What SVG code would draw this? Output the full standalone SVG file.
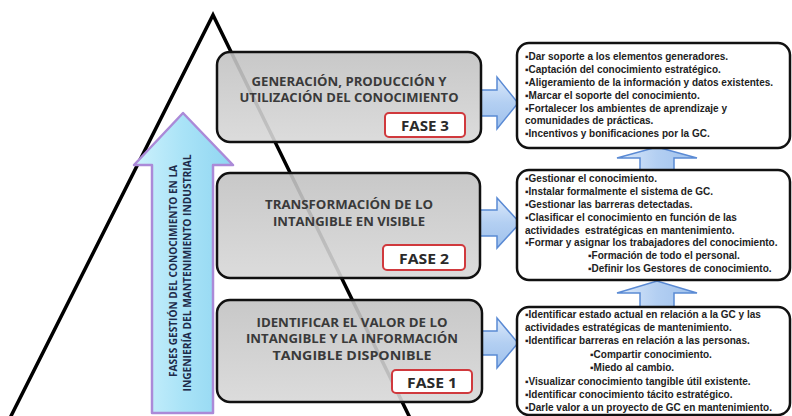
<svg xmlns="http://www.w3.org/2000/svg" width="792" height="416" viewBox="0 0 792 416">
<defs>
<linearGradient id="gGray" x1="0" y1="0" x2="0" y2="1">
<stop offset="0" stop-color="#c2c2c2"/>
<stop offset="1" stop-color="#d8d8d8"/>
</linearGradient>
<linearGradient id="gCyan" x1="0" y1="0" x2="1" y2="0">
<stop offset="0" stop-color="#cdf1fc"/>
<stop offset="0.5" stop-color="#a9e3f7"/>
<stop offset="1" stop-color="#8fd5f1"/>
</linearGradient>
<linearGradient id="gBlueH" x1="0" y1="0" x2="0" y2="1">
<stop offset="0" stop-color="#dce9fa"/>
<stop offset="0.5" stop-color="#b3cff2"/>
<stop offset="1" stop-color="#9fc1ec"/>
</linearGradient>
<linearGradient id="gBlueV" x1="0" y1="0" x2="1" y2="0">
<stop offset="0" stop-color="#dce9fa"/>
<stop offset="0.5" stop-color="#b3cff2"/>
<stop offset="1" stop-color="#9fc1ec"/>
</linearGradient>
</defs>
<style>
.phase{fill:url(#gGray);fill-opacity:0.9;stroke:#111;stroke-width:2.5}
.ph{font-family:"Open Sans","Liberation Sans",sans-serif;font-weight:bold;font-size:12.5px;fill:#3a3a3a;text-anchor:middle}
.fbox{fill:#fff;stroke:#d0393d;stroke-width:2}
.ft{font-family:"Open Sans","Liberation Sans",sans-serif;font-weight:bold;font-size:15px;fill:#2a2a2a;text-anchor:middle}
.wbox{fill:#fff;stroke:#111;stroke-width:2.5}
.wt{font-family:"Liberation Sans",Arial,sans-serif;font-weight:bold;font-size:10px;fill:#222}
.barr{fill:url(#gBlueH);stroke:#5a8ad4;stroke-width:1.5}
.varr{fill:url(#gBlueV);stroke:#5a8ad4;stroke-width:1.5}
.vt{font-family:"Open Sans","Liberation Sans",sans-serif;font-weight:bold;font-size:10.5px;fill:#1e2b4a;text-anchor:middle}
</style>
<rect width="792" height="416" fill="#fff"/>

<g id="pyramid">
<polyline points="9,420 213,15 411,420" fill="none" stroke="#000" stroke-width="3.5" stroke-linejoin="miter"/>
</g>

<g id="fases-arrow">
<path d="M152,413 L152,165 L134,165 L183,113 L233,165 L213,165 L213,413 Z" fill="url(#gCyan)" stroke="#ab8ad8" stroke-width="2.5" stroke-linejoin="round"/>
<text class="vt" transform="translate(177,271) rotate(-90)" textLength="212" lengthAdjust="spacingAndGlyphs">FASES GESTIÓN DEL CONOCIMIENTO EN LA</text>
<text class="vt" transform="translate(191,273) rotate(-90)" textLength="237" lengthAdjust="spacingAndGlyphs">INGENIERÍA DEL MANTENIMIENTO INDUSTRIAL</text>
</g>

<g id="connectors">
<path class="barr" d="M481,90 L497,90 L497,77 L518,103 L497,129 L497,116 L481,116 Z"/>
<path class="barr" d="M480,210 L497,210 L497,198 L520,223 L497,248 L497,236 L480,236 Z"/>
<path class="barr" d="M482,331 L497,331 L497,318 L518,343 L497,368 L497,355 L482,355 Z"/>
<path class="varr" d="M640,170 L640,158 L617,158 L657,147 L697,158 L674,158 L674,170 Z"/>
<path class="varr" d="M640,307 L640,293 L617,293 L657,281 L697,293 L674,293 L674,307 Z"/>
</g>

<g id="fase3">
<rect class="phase" x="217" y="52" width="264" height="90" rx="13"/>
<text class="ph" x="349" y="86" textLength="195" lengthAdjust="spacingAndGlyphs">GENERACIÓN, PRODUCCIÓN Y</text>
<text class="ph" x="349" y="102" textLength="219" lengthAdjust="spacingAndGlyphs">UTILIZACIÓN DEL CONOCIMIENTO</text>
<rect class="fbox" x="385" y="113" width="80" height="24" rx="4"/>
<text class="ft" x="425" y="131" textLength="48" lengthAdjust="spacingAndGlyphs">FASE 3</text>
</g>

<g id="fase2">
<rect class="phase" x="217" y="173" width="263" height="105" rx="13"/>
<text class="ph" x="349" y="209" textLength="168" lengthAdjust="spacingAndGlyphs">TRANSFORMACIÓN DE LO</text>
<text class="ph" x="349" y="226" textLength="152" lengthAdjust="spacingAndGlyphs">INTANGIBLE EN VISIBLE</text>
<rect class="fbox" x="383" y="245" width="82" height="25" rx="4"/>
<text class="ft" x="424" y="264" textLength="50" lengthAdjust="spacingAndGlyphs">FASE 2</text>
</g>

<g id="fase1">
<rect class="phase" x="217" y="300" width="265" height="102" rx="13"/>
<text class="ph" x="352" y="327" textLength="191" lengthAdjust="spacingAndGlyphs">IDENTIFICAR EL VALOR DE LO</text>
<text class="ph" x="352" y="343" textLength="212" lengthAdjust="spacingAndGlyphs">INTANGIBLE Y LA INFORMACIÓN</text>
<text class="ph" x="352" y="360" textLength="159" lengthAdjust="spacingAndGlyphs">TANGIBLE DISPONIBLE</text>
<rect class="fbox" x="392" y="370" width="80" height="23" rx="4"/>
<text class="ft" x="432" y="388" textLength="50" lengthAdjust="spacingAndGlyphs">FASE 1</text>
</g>

<g id="acciones3">
<rect class="wbox" x="517" y="43" width="273" height="105" rx="12"/>
<text class="wt" x="525" y="60">▪Dar soporte a los elementos generadores.</text>
<text class="wt" x="525" y="73">▪Captación del conocimiento estratégico.</text>
<text class="wt" x="525" y="86">▪Aligeramiento de la información y datos existentes.</text>
<text class="wt" x="525" y="99">▪Marcar el soporte del conocimiento.</text>
<text class="wt" x="525" y="112">▪Fortalecer los ambientes de aprendizaje y</text>
<text class="wt" x="525" y="124">comunidades de prácticas.</text>
<text class="wt" x="525" y="137">▪Incentivos y bonificaciones por la GC.</text>
</g>

<g id="acciones2">
<rect class="wbox" x="517" y="170" width="273" height="110" rx="12"/>
<text class="wt" x="525" y="182">▪Gestionar el conocimiento.</text>
<text class="wt" x="525" y="195">▪Instalar formalmente el sistema de GC.</text>
<text class="wt" x="525" y="208">▪Gestionar las barreras detectadas.</text>
<text class="wt" x="525" y="221">▪Clasificar el conocimiento en función de las</text>
<text class="wt" x="525" y="234" xml:space="preserve">actividades  estratégicas en mantenimiento.</text>
<text class="wt" x="525" y="246">▪Formar y asignar los trabajadores del conocimiento.</text>
<text class="wt" x="588" y="259">▪Formación de todo el personal.</text>
<text class="wt" x="588" y="272">▪Definir los Gestores de conocimiento.</text>
</g>

<g id="acciones1">
<rect class="wbox" x="517" y="307" width="273" height="108" rx="12"/>
<text class="wt" x="525" y="318">▪Identificar estado actual en relación a la GC y las</text>
<text class="wt" x="525" y="331">actividades estratégicas de mantenimiento.</text>
<text class="wt" x="525" y="344">▪Identificar barreras en relación a las personas.</text>
<text class="wt" x="590" y="358">▪Compartir conocimiento.</text>
<text class="wt" x="590" y="371">▪Miedo al cambio.</text>
<text class="wt" x="525" y="385">▪Visualizar conocimiento tangible útil existente.</text>
<text class="wt" x="525" y="398">▪Identificar conocimiento tácito estratégico.</text>
<text class="wt" x="525" y="411">▪Darle valor a un proyecto de GC en mantenimiento.</text>
</g>
</svg>
